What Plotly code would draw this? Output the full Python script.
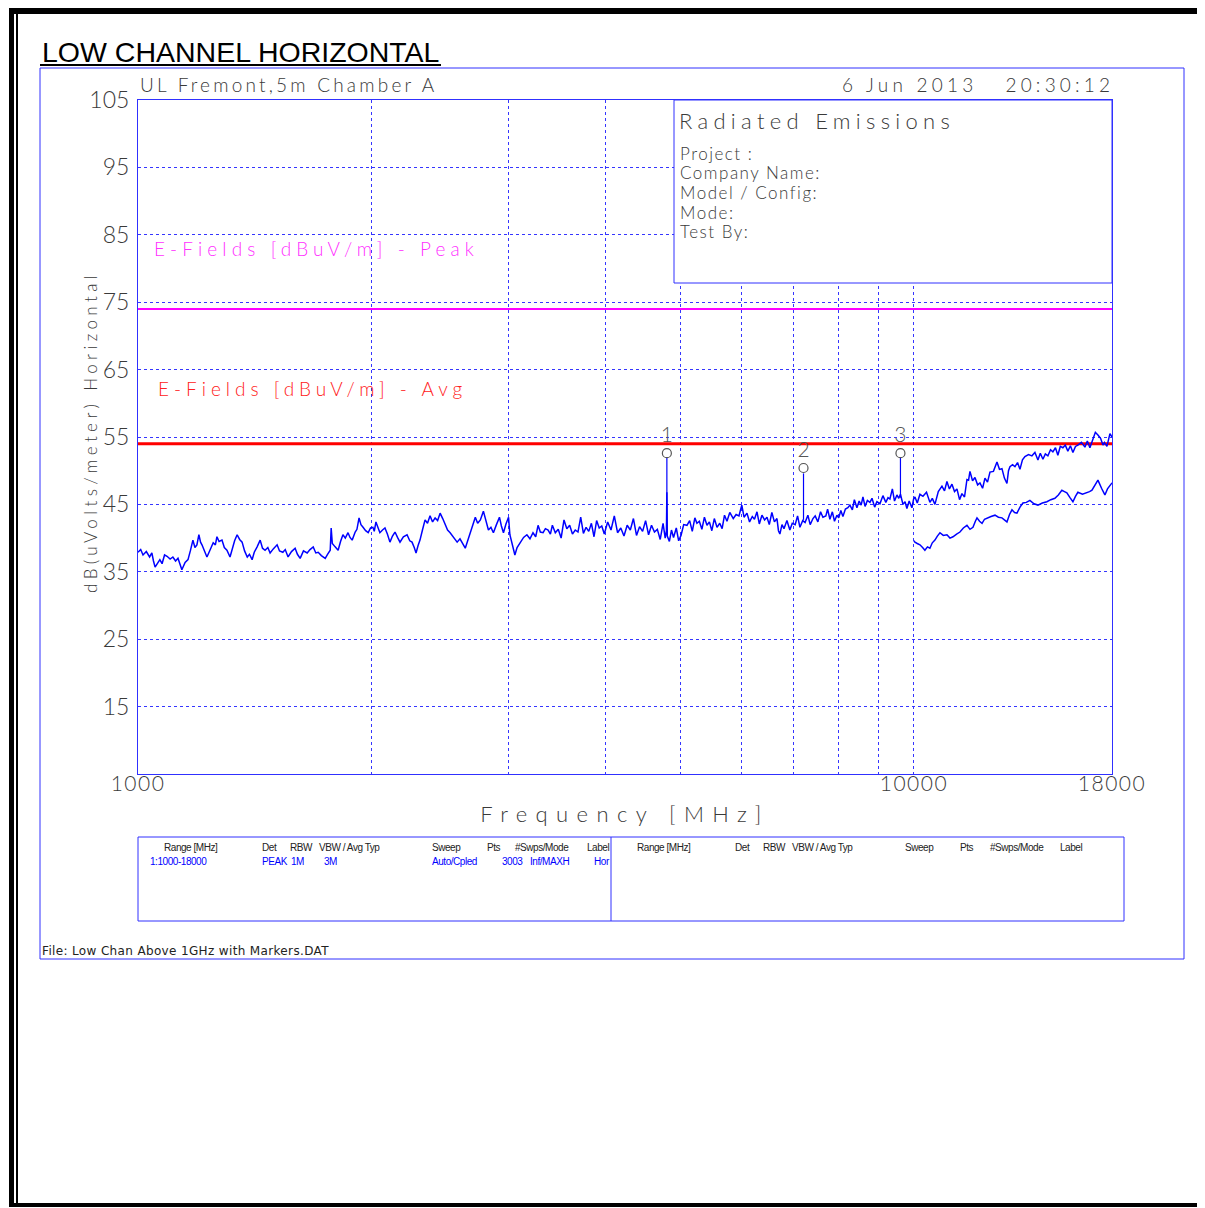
import plotly.graph_objects as go

# ---------------- data ----------------
scan1_freq = [1000,1008,1015,1025,1035,1042,1047,1052,1060,1067,1074,1082,1090,1100,1109,1118,1126,1132,1139,1150,
 1160,1168,1177,1184,1191,1198,1204,1209,1218,1227,1238,1250,1258,1264,1272,1283,1292,1302,1314,1322,
 1332,1342,1352,1362,1372,1383,1392,1403,1412,1424,1437,1447,1458,1470,1480,1494,1511,1522,1537,1548,
 1561,1577,1594,1605,1618,1634,1652,1666,1682,1695,1707,1723,1743,1755,1769,1774,1780,1795,1811,1824,
 1837,1850,1865,1876,1888,1905,1915,1927,1938,1950,1965,1980,1994,2008,2016,2026,2038,2050,2066,2081,
 2096,2112,2128,2144,2160,2176,2198,2222,2240,2255,2270,2282,2296,2309,2326,2344,2361,2379,2397,2415,
 2433,2451,2470,2488,2506,2525,2550,2578,2600,2625,2641,2660,2681,2700,2721,2740,2762,2787,2808,2829,
 2850,2871,2897,2923,2940,2958,2980,3003,3015,3035,3060,3080,3106,3140,3171,3200,3229,3255,3278,3300,
 3327,3350,3377,3400,3420,3450,3480,3510,3540,3570,3600,3630,3660,3690,3720,3750,3780,3810,3840,3870,
 3900,3930,3960,3990,4030,4070,4110,4150,4190,4230,4270,4310,4350,4390,4430,4470,4510,4550,4590,4630,
 4670,4710,4750,4780,4798,4804,4810,4840,4870,4900,4940,4975,5010,5050,5099,5140,5180,5220,5252,5290,
 5330,5370,5411,5450,5490,5530,5575,5620,5660,5700,5742,5790,5850,5900,5950,6000,6040,6093,6140,6190,
 6230,6277,6320,6370,6420,6466,6510,6560,6610,6660,6690,6718,6760,6800,6860,6920,6970,7030,7080,7130,
 7190,7240,7300,7350,7411,7460,7520,7580,7633,7700,7740,7793,7850,7900,7957,8000,8050,8100,8160,8220,
 8270,8330,8380,8444,8500,8550,8596,8650,8710,8776,8830,8900,8960,9040,9121,9200,9260,9312,9380,9440,
 9508,9560,9608,9680,9740,9794,9860,9941,9990,10030,10100,10180,10271,10380,10486,10560,10643,10750,10867,10950,
 11029,11110,11195,11280,11362,11450,11531,11620,11704,11760,11809,11900,11986,12080,12165,12260,12347,12440,12532,12660,
 12795,12890,12985,13080,13179,13240,13297,13400,13496,13600,13697,13800,13902,14050,14192,14320,14448,14550,14664,14770,
 14882,15000,15103,15220,15329,15440,15558,15670,15790,15910,16029,16150,16267,16440,16610,16730,16858,17000,17132,17264,
 17400,17522,17600,17731,17891,18000]
scan1_level = [37.9,38.3,37.5,38.0,37.2,37.8,36.6,35.7,36.3,36.8,36.2,37.5,37.3,36.9,37.2,36.6,37.0,36.2,35.3,36.4,
 36.8,38.1,39.7,38.6,39.0,40.5,39.4,39.0,38.0,37.2,38.2,39.3,39.0,40.2,39.5,39.7,38.6,38.2,37.2,38.4,
 39.6,40.5,39.8,39.4,38.1,37.2,37.6,36.8,37.9,38.7,39.7,38.5,38.2,38.6,37.8,38.4,39.0,38.1,37.9,38.3,
 37.2,38.0,38.5,37.6,37.0,38.1,37.8,38.3,38.7,37.8,37.9,37.4,37.0,37.6,38.2,41.5,39.2,38.7,38.2,39.5,
 40.5,40.0,40.8,40.1,39.7,40.9,41.3,43.0,42.0,41.6,41.1,40.8,41.5,41.6,41.0,42.4,41.5,40.8,41.2,41.5,
 40.6,39.4,40.3,40.9,40.1,39.4,40.2,40.5,39.6,39.4,38.6,37.8,38.9,39.7,41.2,42.7,42.2,43.3,42.4,43.0,
 42.6,43.7,42.9,41.9,41.2,40.8,40.1,39.4,39.9,39.0,38.5,39.6,40.8,41.9,43.1,42.2,42.7,44.0,42.5,41.2,
 41.6,40.8,42.0,43.1,41.8,40.8,42.1,43.1,40.5,39.2,37.5,38.6,39.3,40.1,40.5,39.9,40.8,40.2,41.9,40.9,
 40.8,41.4,41.2,
 # 3400 - 4975 MHz
 40.6,41.9,40.8,41.3,40.0,42.7,41.4,41.9,40.6,41.2,40.9,43.1,40.7,41.6,41.0,42.2,40.2,42.6,41.5,41.8,
 40.6,42.4,41.2,43.3,40.8,41.5,40.3,41.9,41.2,42.9,40.4,41.7,41.0,42.6,40.5,41.9,40.9,41.3,39.8,42.2,
 40.0,41.1,46.8,40.3,39.5,41.2,40.1,41.5,39.6,
 # 5010 - 9990 MHz
 40.4,42.0,41.9,42.6,41.0,43.0,42.2,42.5,41.3,43.1,
 41.9,42.4,41.1,42.9,41.6,42.2,41.4,43.4,42.5,43.8,
 42.9,43.5,43.3,44.9,43.1,43.7,42.4,43.2,42.8,43.9,
 42.1,43.4,42.7,43.1,42.0,43.8,42.4,42.9,41.1,40.6,
 42.0,41.4,42.6,41.2,42.2,42.0,43.3,41.6,42.6,42.3,
 43.4,42.0,42.9,43.3,42.4,43.9,43.1,43.3,44.3,42.8,
 43.9,42.5,43.4,43.0,44.1,43.2,44.3,44.5,44.9,44.2,
 45.7,44.5,45.5,44.9,46.1,44.7,45.6,45.3,45.9,44.6,
 45.4,45.1,46.3,45.3,46.0,45.8,47.3,45.5,46.4,45.9,
 46.5,45.0,45.4,44.4,45.5,44.5,45.8,
 # 10030 - 18000 MHz
 46.1,45.2,46.5,46.2,46.8,45.3,45.9,45.0,46.9,47.7,47.0,
 48.4,47.3,48.0,46.9,47.3,45.7,46.6,46.1,48.7,48.6,49.9,48.5,49.0,
 47.9,48.2,47.4,48.9,48.3,49.8,49.9,51.3,50.2,50.3,
 48.9,48.1,50.0,50.6,50.9,50.6,51.2,50.2,51.6,52.1,
 52.4,52.2,52.7,51.6,52.6,51.7,52.5,52.2,
 53.1,52.8,53.4,52.3,53.6,53.4,53.8,52.9,53.7,
 52.7,53.6,53.8,54.2,53.5,54.4,53.4,
 54.5,55.7,55.3,54.8,53.8,54.2,53.6,55.5,55.0]

scan2_freq = [10000,10030,10100,10180,10260,10331,10410,10486,10560,10643,10720,10803,10910,11029,11130,11228,11350,11463,11580,11704,
 11810,11915,12000,12058,12150,12240,12330,12422,12570,12720,12850,12985,13080,13179,13280,13377,13480,13576,13700,13820,
 13960,14108,14280,14448,14640,14838,15010,15194,15350,15512,15630,15744,15890,16029,16150,16267,16490,16717,16840,16962,
 17110,17264,17450,17626,17760,17891,18000]
scan2_level = [39.6,39.4,39.2,39.0,38.6,38.2,38.7,38.5,39.3,39.7,40.3,40.8,40.4,40.5,40.0,40.2,40.6,40.9,41.5,41.9,
 41.3,41.6,42.5,43.0,42.5,42.2,42.8,43.0,43.2,43.4,43.1,43.0,42.7,42.4,43.5,44.2,43.8,43.7,44.6,45.2,
 45.3,45.6,45.1,44.9,45.2,45.4,45.7,45.9,46.4,47.1,46.9,46.7,46.0,45.4,46.2,46.8,46.5,46.7,46.9,47.1,
 47.8,48.6,47.4,46.4,47.3,47.9,48.2]

marker_names = ["1", "2", "3"]
marker_freq = [4804, 7206, 9608]
marker_label_level = [55.0, 52.8, 55.0]
marker_circle_level = [52.6, 50.4, 52.6]
marker_line_top = [51.9, 49.6, 51.9]
marker_line_bottom = [40.5, 42.7, 46.0]

peak_limit = 74.0
avg_limit = 54.0
freq_start, freq_stop = 1000, 18000

x_tick_vals = [1000, 2000, 3000, 4000, 5000, 6000, 7000, 8000, 9000, 10000, 18000]
x_tick_text = ["1000", "", "", "", "", "", "", "", "", "10000", "18000"]
y_tick_vals = [15, 25, 35, 45, 55, 65, 75, 85, 95, 105]
y_tick_text = ["15", "25", "35", "45", "55", "65", "75", "85", "95", "105"]

# ---------------- layout helpers ----------------
OFF = 8                      # page body margin of the html page
W, H = 1205 - OFF, 1208 - OFF
L, R, T, B = 138, 1112, 100, 774   # plot area in page pixels
def px(x):
    return (x - L) / (R - L)
def py(y):
    return (B - y) / (B - T)
def sp(text, ls):
    return f"<span style='letter-spacing:{ls}px'>{text}</span>"

BLUE = "#0000ff"
GRID = "#3535ff"
FRAME = "#3030ff"
HERSHEY = "Lato, DejaVu Sans, sans-serif"
TABLE = "Liberation Sans, Arial, sans-serif"
GREY = "#3a3a3a"

fig = go.Figure()

fig.add_trace(go.Scatter(x=[freq_start, freq_stop], y=[peak_limit, peak_limit], mode="lines",
                         line=dict(color="#ff00ff", width=2), hoverinfo="skip"))
fig.add_trace(go.Scatter(x=[freq_start, freq_stop], y=[avg_limit, avg_limit], mode="lines",
                         line=dict(color="#ff0000", width=3), hoverinfo="skip"))
fig.add_trace(go.Scatter(x=scan1_freq, y=scan1_level, mode="lines",
                         line=dict(color=BLUE, width=1.5)))
fig.add_trace(go.Scatter(x=scan2_freq, y=scan2_level, mode="lines",
                         line=dict(color=BLUE, width=1.5)))

mx, my = [], []
for f, t, b in zip(marker_freq, marker_line_top, marker_line_bottom):
    mx += [f, f, None]
    my += [t, b, None]
fig.add_trace(go.Scatter(x=mx, y=my, mode="lines", line=dict(color=BLUE, width=1.2)))
fig.add_trace(go.Scatter(x=marker_freq, y=marker_circle_level, mode="markers",
                         marker=dict(symbol="circle-open", size=9, color="#555555", line=dict(width=1.2))))
fig.add_trace(go.Scatter(x=marker_freq, y=marker_label_level, mode="text", text=marker_names,
                         textfont=dict(family=HERSHEY, size=21, color="#555555", weight=300)))

shapes = []
def rect(x0, x1, y0, y1, **kw):
    d = dict(type="rect", xref="paper", yref="paper", x0=px(x0), x1=px(x1), y0=py(y0), y1=py(y1),
             layer="above")
    d.update(kw)
    shapes.append(d)

# page black frame
rect(9, 1205, 7, 14, fillcolor="black", line=dict(width=0))
rect(9, 14, 7, 1207, fillcolor="black", line=dict(width=0))
rect(16, 18, 14, 1207, fillcolor="black", line=dict(width=0))
rect(9, 1205, 1203, 1207, fillcolor="black", line=dict(width=0))
# blue outer frame
rect(40, 1184, 68, 959, line=dict(color=FRAME, width=1))
# info box
rect(674, 1112, 100, 283, line=dict(color=FRAME, width=1), fillcolor="white")
# settings table
rect(138, 1124, 837, 921, line=dict(color=FRAME, width=1))
shapes.append(dict(type="line", xref="paper", yref="paper", x0=px(611), x1=px(611), y0=py(837), y1=py(921),
                   line=dict(color=FRAME, width=1), layer="above"))
# title underline
shapes.append(dict(type="line", xref="paper", yref="paper", x0=px(40), x1=px(441), y0=py(65), y1=py(65),
                   line=dict(color="black", width=2), layer="above"))

ann = []
def add_text(x, y, text, size, color=GREY, anchor="left", family=HERSHEY, weight=300, angle=0):
    ann.append(dict(x=px(x), y=py(y), xref="paper", yref="paper", text=text, showarrow=False,
                    xanchor=anchor, yanchor="middle", textangle=angle,
                    font=dict(family=family, size=size, color=color, weight=weight)))

add_text(40, 52, "LOW CHANNEL HORIZONTAL", 28.5, color="black", family="Liberation Sans, Arial, sans-serif", weight=400)
add_text(138, 84, sp("UL Fremont,5m Chamber A", 3.2), 19)
add_text(1116, 84, sp("6 Jun 2013&nbsp;&nbsp;&nbsp;20:30:12", 4.2), 19, anchor="right")
add_text(677, 120, sp("Radiated Emissions", 5.3), 22)
for i, line in enumerate(["Project :", "Company Name:", "Model / Config:", "Mode:", "Test By:"]):
    add_text(678, 153 + i * 19.7, sp(line, 1.5), 17)
add_text(152, 248, sp("E-Fields [dBuV/m] - Peak", 5.1), 19, color="#ff30ff")
add_text(156, 388, sp("E-Fields [dBuV/m] - Avg", 5.0), 19, color="#ff2020")
add_text(90, 432, sp("dB(uVolts/meter) Horizontal", 4.4), 17, anchor="center", angle=-90)
add_text(40, 951, sp("File: Low Chan Above 1GHz with Markers.DAT", 0.35), 12, color="#222222",
         family="DejaVu Sans, sans-serif", weight=400)

hdr1 = [(162, "Range [MHz]"), (260, "Det"), (288, "RBW"), (317, "VBW / Avg Typ"), (430, "Sweep"),
        (485, "Pts"), (513, "#Swps/Mode"), (585, "Label")]
row1 = [(148, "1:1000-18000"), (260, "PEAK"), (289, "1M"), (322, "3M"), (430, "Auto/Cpled"),
        (500, "3003"), (528, "Inf/MAXH"), (592, "Hor")]
hdr2 = [(635, "Range [MHz]"), (733, "Det"), (761, "RBW"), (790, "VBW / Avg Typ"), (903, "Sweep"),
        (958, "Pts"), (988, "#Swps/Mode"), (1058, "Label")]
for x, t in hdr1 + hdr2:
    add_text(x, 847, sp(t, -0.45), 10, color="#222222", family=TABLE, weight=400)
for x, t in row1:
    add_text(x, 861, sp(t, -0.45), 10, color=BLUE, family=TABLE, weight=400)

fig.update_layout(
    width=W, height=H,
    margin=dict(l=L - OFF, r=W - (R - OFF), t=T - OFF, b=H - (B - OFF), pad=0),
    paper_bgcolor="white", plot_bgcolor="white",
    showlegend=False,
    shapes=shapes, annotations=ann,
    xaxis=dict(type="log", range=[3, 4.255272505], tickvals=x_tick_vals,
               ticktext=[sp(t, 1.5) for t in x_tick_text], tickangle=0,
               showgrid=True, gridcolor=GRID, gridwidth=1, griddash="3px,3px",
               showline=True, mirror=True, linecolor=FRAME, linewidth=1,
               ticks="", zeroline=False, ticklabelstandoff=-9,
               tickfont=dict(family=HERSHEY, size=21, color=GREY, weight=300),
               title=dict(text=sp("Frequency [MHz]", 8.4), standoff=12,
                          font=dict(family=HERSHEY, size=22, color=GREY, weight=300))),
    yaxis=dict(range=[5, 105], tickvals=y_tick_vals, ticktext=y_tick_text,
               showgrid=True, gridcolor=GRID, gridwidth=1, griddash="3px,3px",
               showline=True, mirror=True, linecolor=FRAME, linewidth=1,
               ticks="", zeroline=False, ticklabelstandoff=3,
               tickfont=dict(family=HERSHEY, size=23, color=GREY, weight=300)),
)

fig.write_html("out.html")
